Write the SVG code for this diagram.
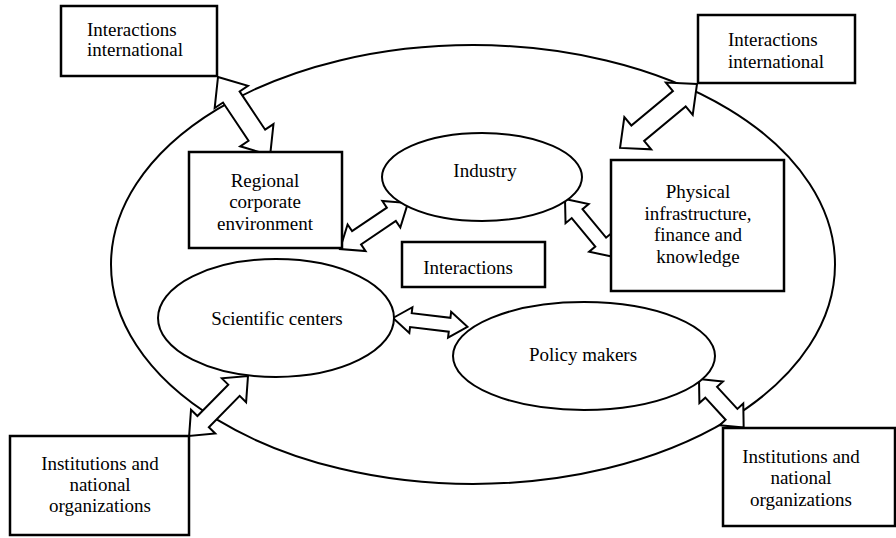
<svg xmlns="http://www.w3.org/2000/svg" width="896" height="538" viewBox="0 0 896 538">
<style>
  .box { fill: #fff; stroke: #000; stroke-width: 2.5; }
  .ell { fill: #fff; stroke: #000; stroke-width: 2; }
  .arr { fill: #fff; stroke: #000; stroke-width: 2; stroke-linejoin: miter; }
  text { font-family: "Liberation Serif", "Times New Roman", serif; font-size: 19px; fill: #000; }
  .c { text-anchor: middle; }
</style>
<rect x="0" y="0" width="896" height="538" fill="#fff"/>
<g id="system">
  <ellipse cx="473" cy="264.5" rx="362" ry="219.5" fill="none" stroke="#000" stroke-width="2"/>
</g>
<g id="connectors">
  <polygon class="arr" transform="translate(218,77) rotate(56.3)" points="0,0 24,-20 24,-10 70,-10 70,-20 94,0 70,20 70,10 24,10 24,20"/>
  <polygon class="arr" transform="translate(697,84) rotate(140.3)" points="0,0 23,-21 23,-10 77,-10 77,-21 100,0 77,21 77,10 23,10 23,21"/>
  <polygon class="arr" transform="translate(340,249) rotate(-34.1)" points="0,0 20,-16 20,-8 62,-8 62,-16 82,0 62,16 62,8 20,8 20,16"/>
  <polygon class="arr" transform="translate(565,199) rotate(50.4)" points="0,0 19,-15 19,-7 56,-7 56,-15 75,0 56,15 56,7 19,7 19,15"/>
  <polygon class="arr" transform="translate(393,318) rotate(6.8)" points="0,0 18,-13 18,-7 57,-7 57,-13 75,0 57,13 57,7 18,7 18,13"/>
  <polygon class="arr" transform="translate(248,376) rotate(134.5)" points="0,0 20,-17 20,-8 64,-8 64,-17 84,0 64,17 64,8 20,8 20,17"/>
  <polygon class="arr" transform="translate(699,379) rotate(47.4)" points="0,0 18,-16 18,-8 48,-8 48,-16 66,0 48,16 48,8 18,8 18,16"/>
</g>
<g id="intl-left">
  <rect class="box" x="61" y="6" width="156" height="70"/>
  <text x="87" y="36">Interactions</text>
  <text x="87" y="56">international</text>
</g>
<g id="intl-right">
  <rect class="box" x="698" y="15" width="157" height="68"/>
  <text x="728" y="46">Interactions</text>
  <text x="728" y="68">international</text>
</g>
<g id="regional">
  <rect class="box" x="189" y="152" width="153" height="96"/>
  <text class="c" x="265" y="187">Regional</text>
  <text class="c" x="265" y="208">corporate</text>
  <text class="c" x="265" y="230">environment</text>
</g>
<g id="industry">
  <ellipse class="ell" cx="482" cy="177" rx="100" ry="44"/>
  <text class="c" x="485" y="177">Industry</text>
</g>
<g id="physical">
  <rect class="box" x="611" y="160" width="173" height="131"/>
  <text class="c" x="698" y="198">Physical</text>
  <text class="c" x="698" y="220">infrastructure,</text>
  <text class="c" x="698" y="241">finance and</text>
  <text class="c" x="698" y="263">knowledge</text>
</g>
<g id="interactions">
  <rect class="box" x="402" y="242" width="143" height="45"/>
  <text class="c" x="468" y="274">Interactions</text>
</g>
<g id="scientific">
  <ellipse class="ell" cx="276" cy="318" rx="118" ry="59"/>
  <text class="c" x="277" y="325">Scientific centers</text>
</g>
<g id="policy">
  <ellipse class="ell" cx="584" cy="356" rx="131" ry="54"/>
  <text class="c" x="583" y="361">Policy makers</text>
</g>
<g id="inst-left">
  <rect class="box" x="10" y="436" width="179" height="99"/>
  <text class="c" x="100" y="470">Institutions and</text>
  <text class="c" x="100" y="491">national</text>
  <text class="c" x="100" y="512">organizations</text>
</g>
<g id="inst-right">
  <rect class="box" x="723" y="428" width="172" height="98"/>
  <text class="c" x="801" y="463">Institutions and</text>
  <text class="c" x="801" y="484">national</text>
  <text class="c" x="801" y="506">organizations</text>
</g>
</svg>
